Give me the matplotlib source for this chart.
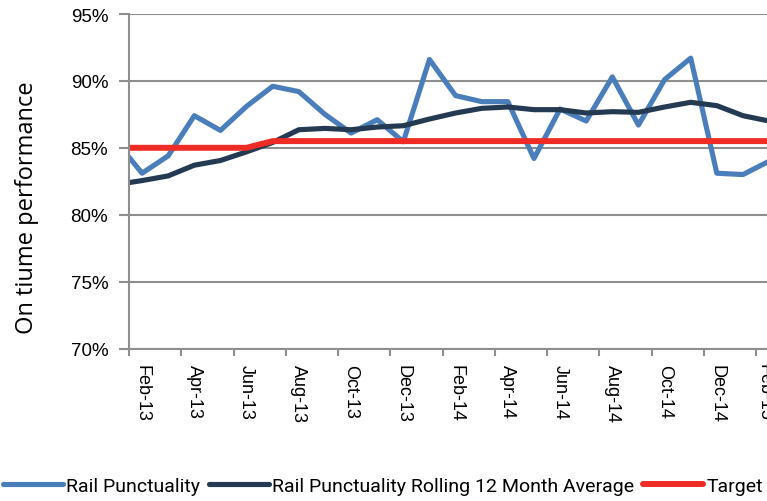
import numpy as np
import pandas as pd
import matplotlib
matplotlib.use('Agg')
import matplotlib.pyplot as plt

# months Jan-13 .. Feb-15 (first and last lie just outside the visible window)
months = pd.date_range('2013-01-01', periods=26, freq='MS').strftime('%b-%y').tolist()

punctuality = [85.5, 83.1, 84.4, 87.4, 86.3, 88.1, 89.6, 89.2, 87.5, 86.1, 87.1, 85.45, 91.6,
               88.9, 88.45, 88.45, 84.2, 87.9, 87.0, 90.3, 86.7, 90.1, 91.7, 83.1, 83.0, 84.0]
rolling_avg = [82.25, 82.55, 82.9, 83.7, 84.05, 84.7, 85.4, 86.35, 86.45, 86.35, 86.55, 86.65, 87.15,
               87.6, 87.95, 88.05, 87.85, 87.85, 87.6, 87.7, 87.65, 88.05, 88.4, 88.15, 87.4, 87.0]
target = [85.0] * 6 + [85.5] * 20

names = ['Rail Punctuality', 'Rail Punctuality Rolling 12 Month Average', 'Target']
colors = ['#4A7EBB', '#243A52', '#EE2B24']

x = np.arange(len(months)) - 1  # Feb-13 -> 0

fig = plt.figure(figsize=(7.67, 5.02), dpi=100)
ax = fig.add_axes([129 / 767, 1 - 349.5 / 502, 1 - 129 / 767, (349.5 - 15) / 502])

ax.plot(x, punctuality, color=colors[0], lw=3.7, label=names[0], solid_capstyle='round')
ax.plot(x, rolling_avg, color=colors[1], lw=3.7, label=names[1], solid_capstyle='round')
ax.plot(x, target, color=colors[2], lw=4.3, label=names[2], solid_capstyle='round')

ax.set_ylim(70, 95)
ax.set_xlim(-0.5, (767 - 142.1) / 26.125)
ax.set_yticks(np.arange(70, 96, 5))
ax.set_yticklabels([f'{v}%' for v in range(70, 96, 5)], family='Liberation Sans', fontsize=13.5)
ax.yaxis.grid(True, color='#8E8E8E', lw=1.5)
ax.set_axisbelow(True)

# major ticks sit between categories, labels every second month
ax.set_xticks(np.arange(-0.5, 24, 2))
ax.set_xticklabels([])
lab_idx = np.arange(0, 24, 2)
ax.set_xticks(lab_idx, minor=True)
ax.set_xticklabels([months[i + 1] for i in lab_idx], minor=True, rotation=270,
                   family='Liberation Sans', fontsize=13, va='top', ha='center')
ax.tick_params(axis='x', which='minor', length=0, pad=11)
ax.tick_params(axis='x', which='major', length=5, width=1.5, color='#8E8E8E')
ax.tick_params(axis='y', length=7, width=1.5, color='#8E8E8E', pad=8)
# last label is cut by the image edge
ax.text(23.8, -0.042, months[25], transform=ax.get_xaxis_transform(), rotation=270,
        family='Liberation Sans', fontsize=13, va='top', ha='center', clip_on=False)

for s in ['top', 'right']:
    ax.spines[s].set_visible(False)
for s in ['left', 'bottom']:
    ax.spines[s].set_color('#8E8E8E')
    ax.spines[s].set_linewidth(1.5)

fig.text(27 / 767, 1 - 208 / 502, 'On tiume performance', rotation=90, ha='center', va='center',
         family='Open Sans', fontsize=17)

fig.legend(loc='center left', bbox_to_anchor=(3 / 767, 1 - 487 / 502), ncol=3, frameon=False,
           prop={'family': 'Roboto', 'size': 14}, handlelength=3.1, handletextpad=0.15,
           columnspacing=0.45, borderaxespad=0, borderpad=0)

fig.savefig('out.png', dpi=100)
